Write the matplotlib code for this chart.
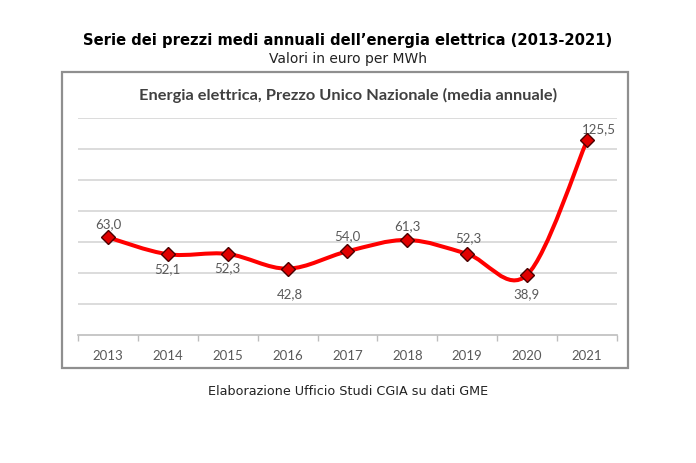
import matplotlib
matplotlib.use("Agg")
import matplotlib.pyplot as plt
from matplotlib.path import Path
from matplotlib.patches import PathPatch, Rectangle
import numpy as np

years = ["2013", "2014", "2015", "2016", "2017", "2018", "2019", "2020", "2021"]
prices = [63.0, 52.1, 52.3, 42.8, 54.0, 61.3, 52.3, 38.9, 125.5]
# label offsets in pixels (dx, dy)
label_offsets = [(0, 14), (0, -14), (0, -13), (2, -24), (0, 16), (0, 15), (1, 17), (-1, -18), (12, 12)]

W, H = 696, 464
fig = plt.figure(figsize=(W / 100, H / 100), dpi=100)
fig.patch.set_facecolor("white")

def fy(py):
    return 1 - py / H

def fx(px):
    return px / W

fig.text(0.5, fy(40), "Serie dei prezzi medi annuali dell\u2019energia elettrica (2013-2021)",
         ha="center", va="center", fontsize=10.6, fontweight="bold", family="DejaVu Sans", color="black")
fig.text(0.5, fy(59), "Valori in euro per MWh", ha="center", va="center",
         fontsize=10, family="DejaVu Sans", color="#222222")
fig.text(0.5, fy(392), "Elaborazione Ufficio Studi CGIA su dati GME", ha="center", va="center",
         fontsize=9.2, family="DejaVu Sans", color="#222222")

# frame box
fig.patches.append(Rectangle((fx(62), fy(369)), fx(628) - fx(62), fy(73) - fy(369),
                             transform=fig.transFigure, fill=False, edgecolor="#8f8f8f",
                             linewidth=1.6, zorder=0))

fig.text(fx(348), fy(95), "Energia elettrica, Prezzo Unico Nazionale (media annuale)",
         ha="center", va="center", fontsize=11.8, fontweight="bold", family="Lato", color="#404040")

ax = fig.add_axes([fx(78), fy(336), fx(617) - fx(78), fy(119) - fy(336)])
n = len(years)
x = np.arange(n)
ax.set_xlim(-0.5, n - 0.5)
ax.set_ylim(0, 140)
ax.set_yticks(np.arange(20, 141, 20))
ax.yaxis.grid(True, color="#d6d6d6", linewidth=1.2)
ax.set_axisbelow(True)
ax.tick_params(axis="y", left=False, labelleft=False)
for s in ["left", "right", "top"]:
    ax.spines[s].set_visible(False)
ax.spines["bottom"].set_color("#bdbdbd")
ax.spines["bottom"].set_linewidth(1.2)

ax.set_xticks(np.arange(-0.5, n, 1), minor=False)
ax.set_xticklabels([])
ax.tick_params(axis="x", which="major", length=4, color="#bdbdbd", width=1)
ax.set_xticks(x, minor=True)
ax.set_xticklabels(years, minor=True)
ax.tick_params(axis="x", which="minor", length=0, pad=10, labelsize=9.5, labelcolor="#595959")
for lab in ax.get_xticklabels(minor=True):
    lab.set_family("Lato")

# smooth curve (Catmull-Rom -> cubic Bezier)
pts = np.column_stack([x, prices]).astype(float)
verts = [tuple(pts[0])]
codes = [Path.MOVETO]
for i in range(n - 1):
    p0 = pts[i - 1] if i > 0 else pts[i]
    p1 = pts[i]
    p2 = pts[i + 1]
    p3 = pts[i + 2] if i + 2 < n else pts[i + 1]
    c1 = p1 + (p2 - p0) / 6.0
    c2 = p2 - (p3 - p1) / 6.0
    verts += [tuple(c1), tuple(c2), tuple(p2)]
    codes += [Path.CURVE4] * 3
ax.add_patch(PathPatch(Path(verts, codes), fill=False, edgecolor="#ff0000", linewidth=2.9,
                       capstyle="round", joinstyle="round", zorder=3))
ax.plot(x, prices, linestyle="none", marker="D", markersize=7, markerfacecolor="#e00000",
        markeredgecolor="#4a0000", markeredgewidth=1.0, zorder=4, clip_on=False)

for xi, v, (dx, dy) in zip(x, prices, label_offsets):
    ax.annotate(f"{v:.1f}".replace(".", ","), (xi, v), xytext=(dx * 0.72, dy * 0.72),
                textcoords="offset points", ha="center", va="center", fontsize=9.5,
                color="#595959", family="Lato")

fig.savefig("out.png", dpi=100)
